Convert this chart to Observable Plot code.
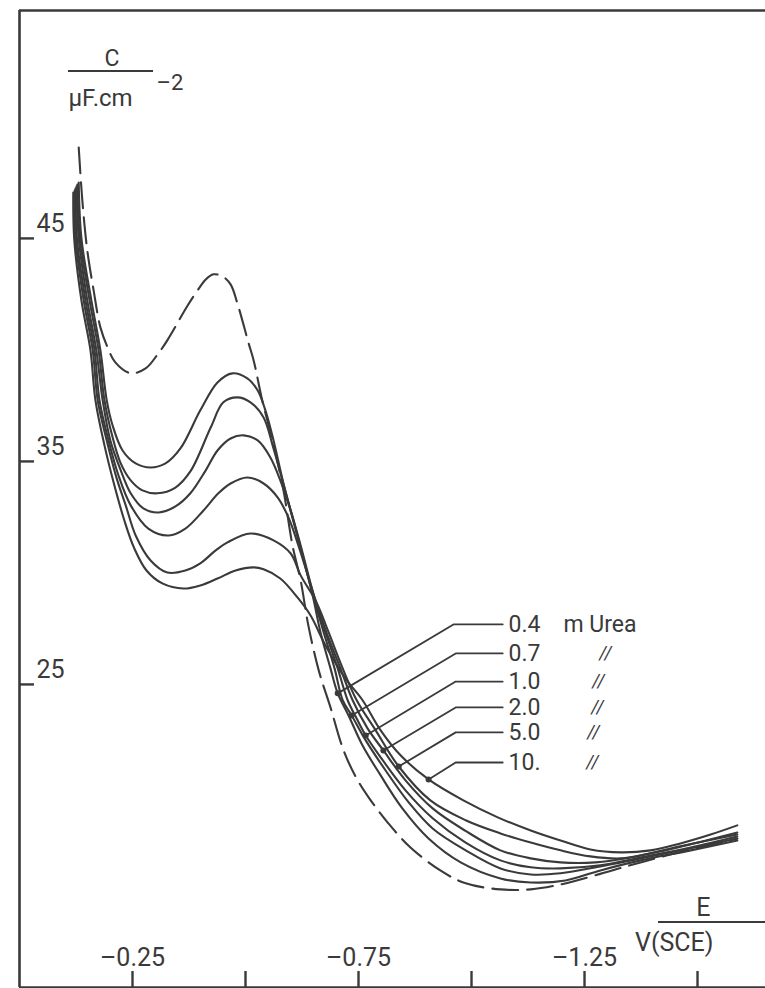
<!DOCTYPE html>
<html><head><meta charset="utf-8">
<script src="https://cdn.jsdelivr.net/npm/d3@7"></script>
<script src="https://cdn.jsdelivr.net/npm/@observablehq/plot@0.6"></script>
<style>
html,body{margin:0;padding:0;background:#fff;}
#chart{width:765px;height:988px;overflow:hidden;}
svg{display:block;}
</style></head><body><div id="chart"></div>
<script>
// ---- data (E in V vs SCE, C in µF cm^-2) ----
const E_base = [-0.131,-0.139,-0.150,-0.164,-0.179,-0.195,-0.212,-0.246,-0.279,-0.307,-0.327,-0.372,-0.394,-0.412,-0.429,-0.449,-0.467,-0.482,-0.507,-0.518,-0.538,-0.560,-0.584,-0.604,-0.622,-0.639,-0.662,-0.688,-0.717,-0.746,-0.777,-0.816,-0.865,-0.931,-0.987,-1.064,-1.131,-1.197,-1.274,-1.374,-1.485,-1.588];
const C_base = [49.08,46.70,44.46,42.67,41.01,40.11,39.44,38.95,39.17,39.84,40.43,41.99,42.67,43.16,43.39,43.30,42.94,42.09,40.29,39.53,37.65,35.94,33.70,31.23,29.66,27.65,25.63,23.97,22.04,20.78,19.80,18.77,17.69,16.66,16.08,15.81,15.81,16.03,16.44,17.02,17.60,18.09];

const E_04 = [-0.131,-0.137,-0.159,-0.179,-0.193,-0.206,-0.228,-0.257,-0.290,-0.323,-0.356,-0.400,-0.438,-0.471,-0.504,-0.527,-0.544,-0.562,-0.584,-0.615,-0.648,-0.666,-0.688,-0.704,-0.728,-0.759,-0.799,-0.847,-0.905,-0.976,-1.064,-1.131,-1.208,-1.285,-1.374,-1.485,-1.588];
const C_04 = [47.51,45.00,42.22,39.98,37.74,36.61,35.49,34.91,34.73,34.91,35.58,37.29,38.54,38.95,38.72,38.18,37.29,35.94,34.01,31.68,29.04,27.33,25.72,24.60,23.61,22.26,20.92,19.44,18.09,17.02,16.30,16.12,16.21,16.66,17.11,17.56,18.00];

const E_07 = [-0.128,-0.134,-0.155,-0.175,-0.188,-0.206,-0.223,-0.246,-0.272,-0.305,-0.345,-0.378,-0.423,-0.451,-0.482,-0.511,-0.540,-0.560,-0.584,-0.615,-0.650,-0.673,-0.697,-0.715,-0.735,-0.766,-0.810,-0.861,-0.914,-0.987,-1.064,-1.131,-1.197,-1.285,-1.374,-1.485,-1.588];
const C_07 = [47.42,45.00,42.22,39.98,37.74,36.08,34.96,34.15,33.70,33.57,33.83,34.55,36.52,37.65,37.87,37.65,36.97,35.72,33.97,31.64,28.95,27.33,25.72,24.29,23.61,22.49,21.14,19.71,18.54,17.56,16.75,16.48,16.53,16.84,17.20,17.65,18.09];

const E_10 = [-0.126,-0.131,-0.150,-0.170,-0.184,-0.201,-0.224,-0.246,-0.274,-0.308,-0.345,-0.378,-0.412,-0.438,-0.467,-0.496,-0.527,-0.555,-0.577,-0.600,-0.622,-0.653,-0.677,-0.704,-0.726,-0.748,-0.766,-0.799,-0.854,-0.914,-0.987,-1.064,-1.131,-1.197,-1.285,-1.374,-1.485,-1.588];
const C_10 = [47.33,45.00,42.22,39.98,37.74,35.94,34.60,33.57,32.89,32.71,32.98,33.57,34.60,35.49,36.03,36.17,35.94,35.18,34.15,32.80,31.23,28.86,27.33,25.72,24.29,23.39,22.71,21.73,20.25,19.00,17.91,17.11,16.80,16.75,16.89,17.24,17.69,18.18];

const E_20 = [-0.124,-0.127,-0.146,-0.166,-0.177,-0.197,-0.219,-0.246,-0.285,-0.330,-0.367,-0.407,-0.440,-0.467,-0.504,-0.540,-0.571,-0.595,-0.617,-0.655,-0.679,-0.710,-0.737,-0.770,-0.805,-0.854,-0.914,-0.987,-1.064,-1.131,-1.197,-1.274,-1.352,-1.462,-1.588];
const C_20 = [47.24,45.00,42.22,39.98,37.74,35.94,34.37,33.03,31.99,31.68,31.99,32.80,33.57,34.01,34.28,34.01,33.39,32.49,31.23,28.77,27.33,25.72,24.29,23.03,22.04,20.70,19.44,18.43,17.56,17.20,17.02,17.02,17.24,17.74,18.27];

const E_50 = [-0.122,-0.124,-0.142,-0.162,-0.173,-0.193,-0.215,-0.235,-0.257,-0.290,-0.327,-0.367,-0.400,-0.434,-0.460,-0.511,-0.562,-0.600,-0.622,-0.657,-0.684,-0.715,-0.746,-0.788,-0.839,-0.909,-0.987,-1.064,-1.131,-1.197,-1.263,-1.330,-1.396,-1.485,-1.588];
const C_50 = [47.15,45.00,42.22,39.98,37.74,35.94,34.24,33.03,31.68,30.56,30.02,30.11,30.43,31.01,31.37,31.77,31.46,30.87,29.89,28.68,27.33,25.72,24.29,22.94,21.32,19.80,18.91,18.32,17.91,17.56,17.29,17.20,17.42,17.83,18.36];

const E_100 = [-0.119,-0.121,-0.137,-0.157,-0.168,-0.188,-0.210,-0.232,-0.254,-0.281,-0.316,-0.363,-0.400,-0.438,-0.478,-0.518,-0.540,-0.577,-0.615,-0.644,-0.677,-0.721,-0.759,-0.799,-0.843,-0.905,-0.982,-1.058,-1.131,-1.197,-1.263,-1.330,-1.396,-1.462,-1.529,-1.588];
const C_100 = [47.06,45.00,42.22,39.98,37.74,35.72,33.92,32.35,31.10,30.11,29.53,29.30,29.44,29.75,30.11,30.25,30.16,29.75,28.90,28.09,26.75,25.27,24.29,22.94,21.82,20.74,19.80,19.04,18.45,18.00,17.60,17.47,17.56,17.87,18.27,18.68];

// legend / annotation
const concLabels = ["0.4", "0.7", "1.0", "2.0", "5.0", "10."];
const anchorE   = [-0.704, -0.735, -0.766, -0.805, -0.839, -0.905];
const labelC    = [27.69, 26.39, 25.13, 23.97, 22.85, 21.50];
const elbowE    = [-0.960, -0.965, -0.965, -0.965, -0.965, -0.965];
const ruleEndE  = -1.069;
const labelE    = -1.082;
const ditto     = ["", "//", "//", "//", "//", "//"];
const dittoE    = [0, -1.2965, -1.2810, -1.2788, -1.2699, -1.2677];
const unitText  = "m Urea";
const unitE     = -1.2035;

const yTicks = [45, 35, 25];
const xTicks = [-0.25, -0.5, -0.75, -1.0, -1.25, -1.5];
const xLabels = [-0.25, -0.75, -1.25];

// ---- build tables ----
const solidE = [E_04, E_07, E_10, E_20, E_50, E_100];
const solidC = [C_04, C_07, C_10, C_20, C_50, C_100];
const solid = [];
solidE.forEach((es, i) => es.forEach((e, j) => solid.push({series: concLabels[i], E: e, C: solidC[i][j]})));
const base = E_base.map((e, j) => ({E: e, C: C_base[j]}));

const anchors = concLabels.map((lab, i) => {
  const es = solidE[i];
  let k = 0, best = Infinity;
  es.forEach((e, j) => { const d = Math.abs(e - anchorE[i]); if (d < best) { best = d; k = j; } });
  return {series: lab, E: es[k], C: solidC[i][k]};
});
const leaders = [];
concLabels.forEach((lab, i) => {
  leaders.push({series: lab, E: anchors[i].E, C: anchors[i].C});
  leaders.push({series: lab, E: elbowE[i], C: labelC[i]});
  leaders.push({series: lab, E: ruleEndE, C: labelC[i]});
});
const labelRows = concLabels.map((lab, i) => ({lab, C: labelC[i], dit: ditto[i], dE: dittoE[i]}));

const ink = "#3a3a3a";
const font = "Roboto, 'DejaVu Sans', sans-serif";
const W = 765, H = 988;
const yTop = 55.22, yBot = 11.41, xMax = -1.6504;

const svg = Plot.plot({
  width: W, height: H,
  marginLeft: 19, marginRight: 0, marginTop: 10, marginBottom: 1,
  style: {background: "#fff", fontFamily: font, color: ink},
  x: {domain: [0, xMax], axis: null},
  y: {domain: [yBot, yTop], axis: null},
  marks: [
    Plot.ruleX([0], {stroke: ink, strokeWidth: 2.6}),
    Plot.ruleY([yTop], {stroke: ink, strokeWidth: 2.6}),
    Plot.ruleY([yBot], {stroke: ink, strokeWidth: 2.6}),
    Plot.tickY(yTicks, {y: d => d, stroke: ink, strokeWidth: 2.4, insetRight: W - 19 - 15}),
    Plot.tickX(xTicks, {x: d => d, stroke: ink, strokeWidth: 2.4, insetTop: (H - 11) - 16}),
    Plot.text(yTicks, {y: d => d, frameAnchor: "left", lineAnchor: "middle", text: d => String(d), dx: 17, dy: -14, textAnchor: "start", fontSize: 25, fill: ink}),
    Plot.text(xLabels, {x: d => d, frameAnchor: "bottom", lineAnchor: "middle", text: d => "\u2013" + String(Math.abs(d)), dy: -30, fontSize: 25, fill: ink}),
    Plot.line(base, {x: "E", y: "C", stroke: ink, strokeWidth: 2.1, strokeDasharray: "26,9", curve: "catmull-rom"}),
    Plot.line(solid, {x: "E", y: "C", z: "series", stroke: ink, strokeWidth: 2.1, curve: "catmull-rom"}),
    Plot.line(leaders, {x: "E", y: "C", z: "series", stroke: ink, strokeWidth: 1.8}),
    Plot.dot(anchors, {x: "E", y: "C", r: 3, fill: ink}),
    Plot.text(labelRows, {x: labelE, y: "C", text: "lab", textAnchor: "start", lineAnchor: "middle", fontSize: 23, fill: ink}),
    Plot.text(labelRows.slice(1), {x: "dE", y: "C", text: "dit", lineAnchor: "middle", fontSize: 18, fontStyle: "italic", fill: ink}),
    Plot.text([unitText], {x: unitE, y: labelC[0], text: d => d, textAnchor: "start", lineAnchor: "middle", fontSize: 23, letterSpacing: 1, fill: ink}),
    // axis titles
    Plot.text(["C"], {frameAnchor: "top-left", lineAnchor: "middle", text: d => d, dx: 85, dy: 48, fontSize: 23, fill: ink}),
    Plot.text(["\u00b5F.cm"], {frameAnchor: "top-left", lineAnchor: "middle", text: d => d, dx: 49, dy: 88, textAnchor: "start", fontSize: 24, letterSpacing: 3, fill: ink}),
    Plot.text(["\u20132"], {frameAnchor: "top-left", lineAnchor: "middle", text: d => d, dx: 137, dy: 72, textAnchor: "start", fontSize: 22, fill: ink}),
    Plot.text(["E"], {frameAnchor: "bottom-right", lineAnchor: "middle", text: d => d, dx: -55, dy: -80, fontSize: 25, fill: ink}),
    Plot.text(["V(SCE)"], {frameAnchor: "bottom-right", lineAnchor: "middle", text: d => d, dx: -52, dy: -45, fontSize: 25, fill: ink, letterSpacing: 3})
  ]
});
const s = d3.select(svg);
s.append("line").attr("x1", 68).attr("x2", 153).attr("y1", 71).attr("y2", 71).attr("stroke", ink).attr("stroke-width", 2.2);
s.append("line").attr("x1", 658).attr("x2", 765).attr("y1", 922).attr("y2", 922).attr("stroke", ink).attr("stroke-width", 2.2);
document.getElementById("chart").appendChild(svg);
</script>
</body></html>
